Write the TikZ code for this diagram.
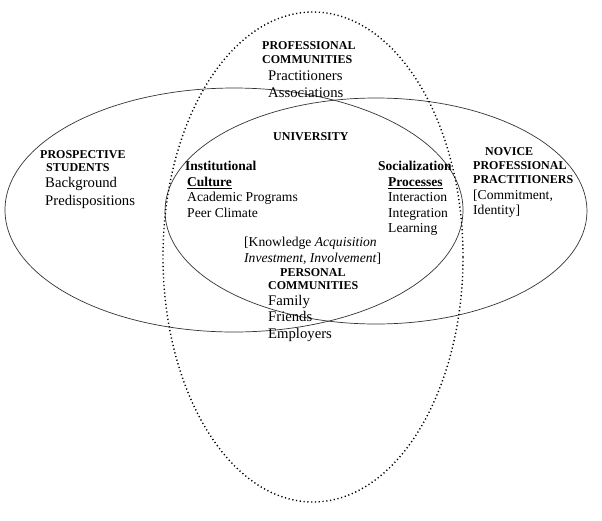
\documentclass[tikz,border=0pt]{standalone}
\usepackage{fontspec}
\setmainfont{Liberation Serif}
\begin{document}
\begin{tikzpicture}[x=1pt,y=-1pt,
  lbl/.style={anchor=west, inner sep=0pt, text height=0.66em, text depth=0pt},
  head/.style={lbl, font=\fontsize{12}{14}\selectfont\bfseries},
  headb/.style={lbl, font=\fontsize{13.5}{16}\selectfont\bfseries},
  big/.style={lbl, font=\fontsize{14.7}{17}\selectfont},
  mid/.style={lbl, font=\fontsize{13.6}{16}\selectfont},
  ring/.style={draw=black!80, line width=0.7pt},
  dotring/.style={draw=black, line width=1.4pt, dash pattern=on 1.2pt off 2.6pt}]
\useasboundingbox (0,0) rectangle (602,520);
% ellipses
\draw[ring] (234,210) ellipse [x radius=229pt, y radius=122pt];
\draw[ring] (376,211) ellipse [x radius=211pt, y radius=113pt];
\draw[dotring] (313,257) ellipse [x radius=150pt, y radius=245pt];
% professional communities
\node[head] (pc1) at (262,46) {PROFESSIONAL};
\node[head] (pc2) at (262,60) {COMMUNITIES};
\node[big] (pc3) at (268,77) {Practitioners};
\node[big] (pc4) at (268,94) {Associations};
% university
\node[head] (uni) at (273,137) {UNIVERSITY};
% prospective students
\node[head] (ps1) at (40,155) {PROSPECTIVE};
\node[head] (ps2) at (46,168) {STUDENTS};
\node[big] (ps3) at (45,184) {Background};
\node[big] (ps4) at (45,202) {Predispositions};
% institutional culture
\node[headb] (ic1) at (185,167) {Institutional};
\node[headb] (ic2) at (187,183) {\underline{Culture}};
\node[mid] (ic3) at (187,198) {Academic Programs};
\node[mid] (ic4) at (187,214) {Peer Climate};
% socialization processes
\node[headb] (sp1) at (378,167) {Socialization};
\node[headb] (sp2) at (388,183) {\underline{Processes}};
\node[mid] (sp3) at (388,198) {Interaction};
\node[mid] (sp4) at (388,214) {Integration};
\node[mid] (sp5) at (388,229) {Learning};
% novice professional practitioners
\node[head] (np1) at (485,152) {NOVICE};
\node[head] (np2) at (473,166) {PROFESSIONAL};
\node[head] (np3) at (473,180) {PRACTITIONERS};
\node[mid] (np4) at (473,196) {[Commitment,};
\node[mid] (np5) at (473,211) {Identity]};
% knowledge
\node[mid] (kn1) at (244,243) {[Knowledge \textit{Acquisition}};
\node[mid] (kn2) at (244,259) {\textit{Investment, Involvement}]};
% personal communities
\node[head] (pe1) at (280,273) {PERSONAL};
\node[head] (pe2) at (268,286) {COMMUNITIES};
\node[big] (pe3) at (268,302) {Family};
\node[big] (pe4) at (268,318) {Friends};
\node[big] (pe5) at (268,335) {Employers};
\end{tikzpicture}
\end{document}
